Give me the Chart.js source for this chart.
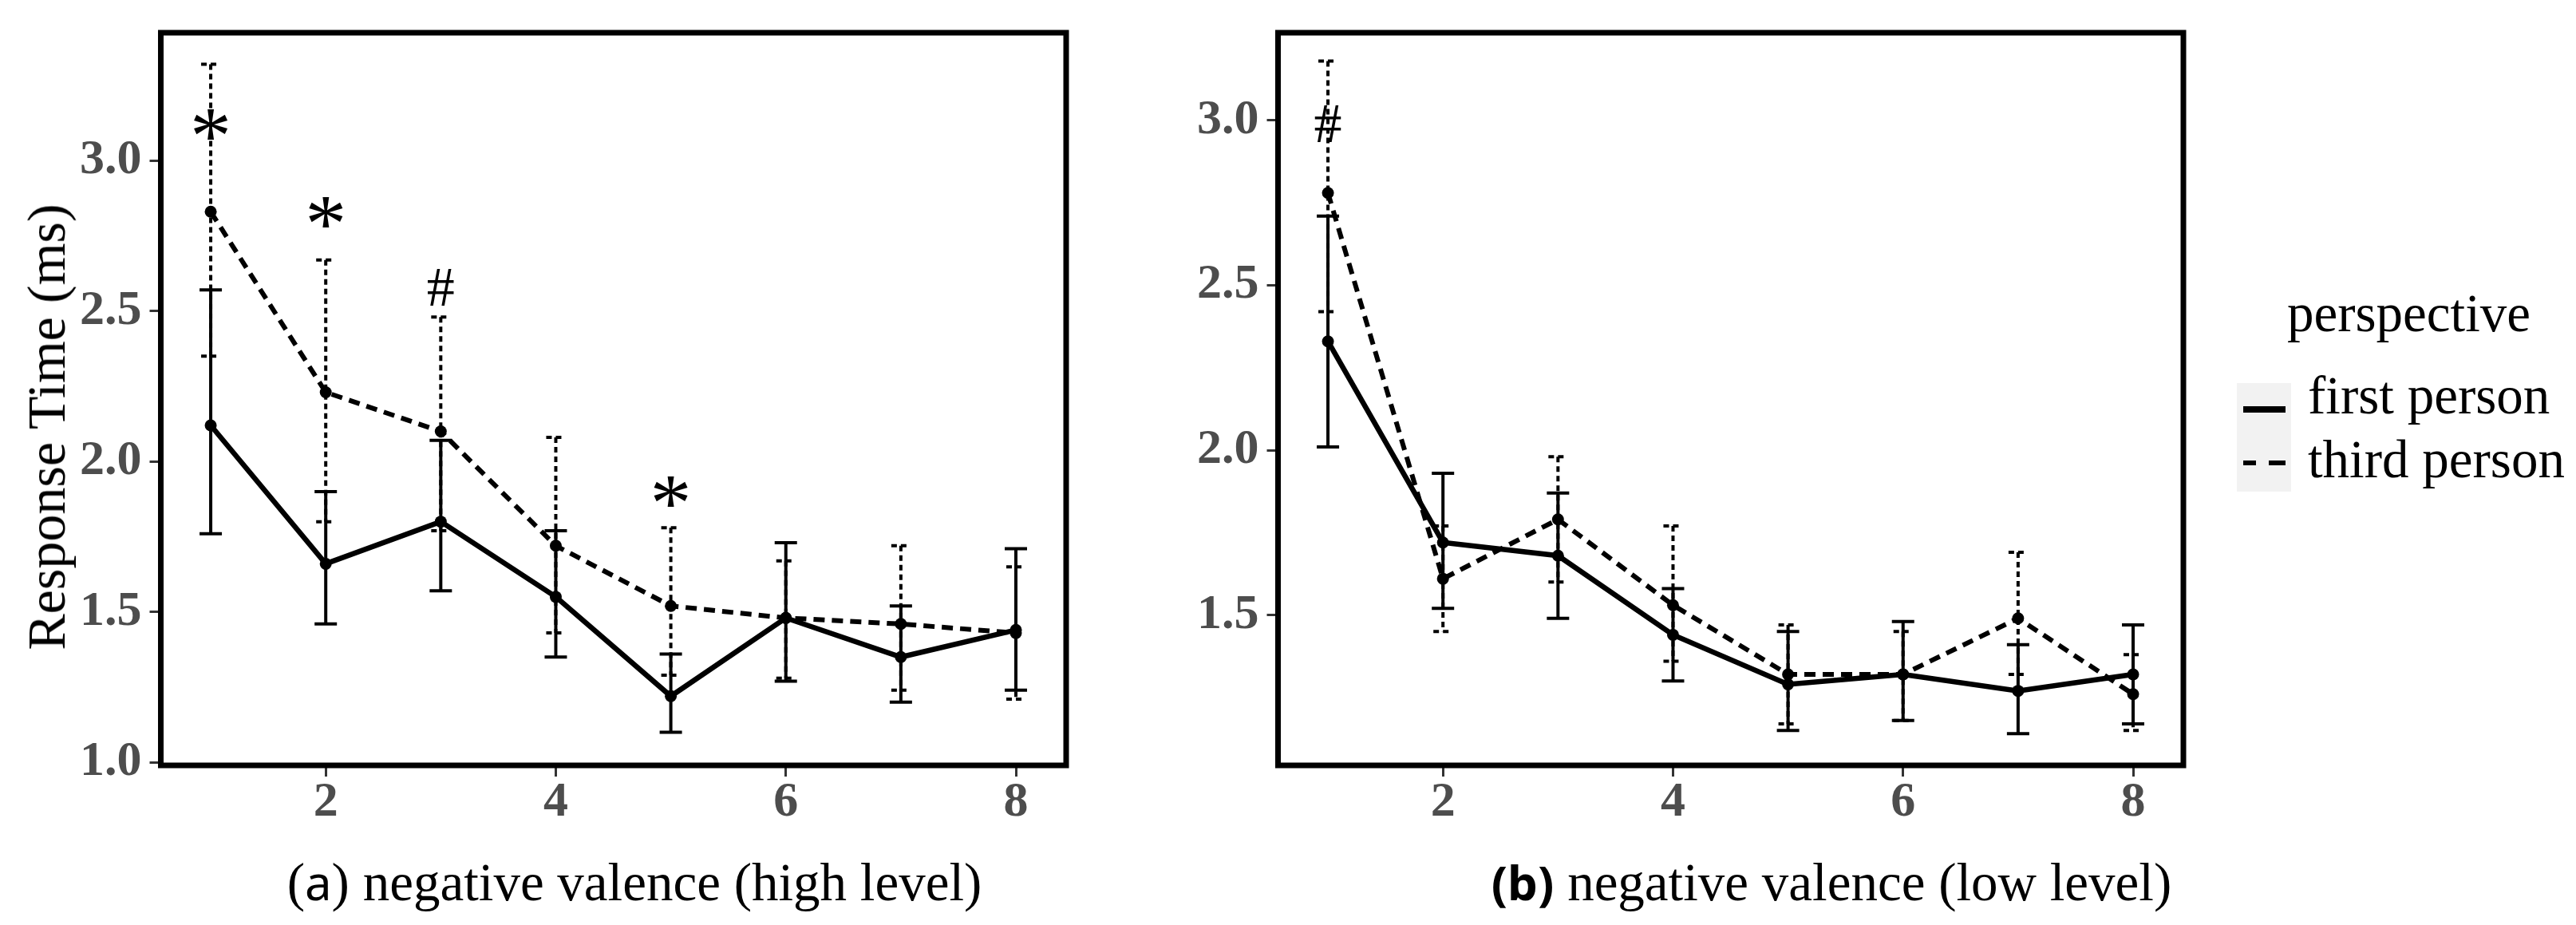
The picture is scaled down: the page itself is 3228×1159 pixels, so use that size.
<!DOCTYPE html>
<html>
<head>
<meta charset="utf-8">
<script src="https://cdn.jsdelivr.net/npm/chart.js@4.4.1/dist/chart.umd.min.js"></script>
<style>
  html, body { margin: 0; padding: 0; background: #fff; }
  #page { position: relative; width: 3228px; height: 1159px; overflow: hidden; background: #fff; }
  canvas { position: absolute; top: 0; }
  .txt { position: absolute; font-family: "Liberation Serif", "Times New Roman", serif; color: #000; white-space: nowrap; line-height: 1; }
</style>
</head>
<body>
<div id="page">
  <canvas id="chartHigh" width="1400" height="1159" style="left:0px"></canvas>
  <canvas id="chartLow" width="1400" height="1159" style="left:1400px"></canvas>

  <div class="txt" id="yTitle" style="font-size:68px; left:58px; top:535px; transform:translate(-50%,-50%) rotate(-90deg);">Response Time (ms)</div>
  <div class="txt" style="font-size:67px; left:795px; top:1072px; transform:translateX(-50%);">(<span style="font-family:'Noto Sans',sans-serif;font-size:60px;">a</span>) negative valence (high level)</div>
  <div class="txt" style="font-size:67px; left:2295px; top:1072px; transform:translateX(-50%);"><span style="font-family:'Noto Sans',sans-serif;font-weight:bold;font-size:60px;">(b)</span> negative valence (low level)</div>

  <div class="txt" style="font-size:67px; left:2866px; top:359px;">perspective</div>
  <div style="position:absolute; left:2803px; top:480px; width:68px; height:136px; background:#f2f2f2;"></div>
  <div style="position:absolute; left:2811px; top:509px; width:53px; height:8px; background:#000;"></div>
  <div style="position:absolute; left:2811px; top:577px; width:16px; height:6px; background:#000;"></div>
  <div style="position:absolute; left:2843px; top:577px; width:21px; height:6px; background:#000;"></div>
  <div class="txt" style="font-size:67px; left:2892px; top:462px;">first person</div>
  <div class="txt" style="font-size:67px; left:2892px; top:542px;">third person</div>
</div>

<script>
// x positions (number of items)
const levels = [1, 2, 3, 4, 5, 6, 7, 8];
const xTicks = [2, 4, 6, 8];

// (a) negative valence, high level
const firstHigh   = [2.12, 1.66, 1.80, 1.55, 1.22, 1.48, 1.35, 1.44];
const firstHighLo = [1.76, 1.46, 1.57, 1.35, 1.10, 1.27, 1.20, 1.24];
const firstHighHi = [2.57, 1.90, 2.07, 1.77, 1.36, 1.73, 1.52, 1.71];
const thirdHigh   = [2.83, 2.23, 2.10, 1.72, 1.52, 1.48, 1.46, 1.43];
const thirdHighLo = [2.35, 1.80, 1.77, 1.43, 1.29, 1.28, 1.24, 1.21];
const thirdHighHi = [3.32, 2.67, 2.48, 2.08, 1.78, 1.67, 1.72, 1.65];
const yTicksHigh = [1.0, 1.5, 2.0, 2.5, 3.0];
const marksHigh = [
  { x: 1, y: 3.12, t: "*" },
  { x: 2, y: 2.83, t: "*" },
  { x: 3, y: 2.58, t: "#" },
  { x: 5, y: 1.90, t: "*" },
];

// (b) negative valence, low level
const firstLow   = [2.33, 1.72, 1.68, 1.44, 1.29, 1.32, 1.27, 1.32];
const firstLowLo = [2.01, 1.52, 1.49, 1.30, 1.15, 1.18, 1.14, 1.17];
const firstLowHi = [2.71, 1.93, 1.87, 1.58, 1.45, 1.48, 1.41, 1.47];
const thirdLow   = [2.78, 1.61, 1.79, 1.53, 1.32, 1.32, 1.49, 1.26];
const thirdLowLo = [2.42, 1.45, 1.60, 1.36, 1.17, 1.18, 1.32, 1.15];
const thirdLowHi = [3.18, 1.77, 1.98, 1.77, 1.47, 1.45, 1.69, 1.38];
const yTicksLow = [1.5, 2.0, 2.5, 3.0];
const marksLow = [{ x: 1, y: 2.99, t: "#" }];

const toPoints = (ys) => levels.map((x, i) => ({ x: x, y: ys[i] }));

// error bars, drawn under the lines
const errorBars = {
  id: "errorBars",
  beforeDatasetsDraw(chart, args, opts) {
    const ctx = chart.ctx;
    const xs = chart.scales.x, ys = chart.scales.y;
    opts.bars.forEach((b) => {
      ctx.save();
      ctx.strokeStyle = "#000";
      ctx.lineWidth = 4;
      ctx.setLineDash(b.dashed ? [7, 5] : []);
      levels.forEach((x, i) => {
        const px = xs.getPixelForValue(x);
        const top = ys.getPixelForValue(b.hi[i]);
        const bot = ys.getPixelForValue(b.lo[i]);
        const w = b.dashed ? 12 : 14;
        ctx.beginPath();
        ctx.moveTo(px, top); ctx.lineTo(px, bot);
        ctx.moveTo(px - w, top); ctx.lineTo(px + w, top);
        ctx.moveTo(px - w, bot); ctx.lineTo(px + w, bot);
        ctx.stroke();
      });
      ctx.restore();
    });
  },
};

// significance marks and the panel border
const panelExtras = {
  id: "panelExtras",
  afterDatasetsDraw(chart, args, opts) {
    const ctx = chart.ctx;
    const xs = chart.scales.x, ys = chart.scales.y;
    ctx.save();
    ctx.fillStyle = "#000";
    ctx.textAlign = "center";
    ctx.textBaseline = "alphabetic";
    opts.marks.forEach((m) => {
      ctx.font = m.t === "*" ? "104px 'Liberation Serif'" : "70px 'Liberation Serif'";
      const mt = ctx.measureText(m.t);
      const px = xs.getPixelForValue(m.x);
      const py = ys.getPixelForValue(m.y) + (mt.actualBoundingBoxAscent - mt.actualBoundingBoxDescent) / 2;
      ctx.fillText(m.t, px, py);
    });
    const a = chart.chartArea;
    ctx.strokeStyle = "#000";
    ctx.lineWidth = 7;
    ctx.strokeRect(a.left, a.top, a.right - a.left, a.bottom - a.top);
    ctx.restore();
  },
};

function makePanel(id, d) {
  const tickFont = { family: "'Liberation Serif'", size: 62, weight: "bold", lineHeight: 1 };
  return new Chart(document.getElementById(id), {
    type: "line",
    data: {
      datasets: [
        {
          label: "first person",
          data: toPoints(d.first),
          borderColor: "#000",
          backgroundColor: "#000",
          borderWidth: 6.5,
          pointRadius: 7.5,
          pointBorderWidth: 0,
          tension: 0,
        },
        {
          label: "third person",
          data: toPoints(d.third),
          borderColor: "#000",
          backgroundColor: "#000",
          borderWidth: 6,
          borderDash: [14, 9],
          pointRadius: 7.5,
          pointBorderWidth: 0,
          tension: 0,
        },
      ],
    },
    options: {
      responsive: false,
      animation: false,
      devicePixelRatio: 1,
      layout: { padding: { top: 28.5, right: 64, left: 0, bottom: 0 } },
      scales: {
        x: {
          type: "linear",
          min: 0.566,
          max: 8.437,
          afterBuildTicks: (s) => { s.ticks = xTicks.map((v) => ({ value: v })); },
          afterFit: (s) => { s.height = 200; },
          grid: { drawOnChartArea: false, drawTicks: true, tickLength: 14, tickWidth: 3, tickColor: "#333" },
          border: { display: false },
          ticks: { color: "#4d4d4d", font: tickFont, padding: 2, maxRotation: 0 },
        },
        y: {
          min: d.yMin,
          max: d.yMax,
          afterBuildTicks: (s) => { s.ticks = d.yTicks.map((v) => ({ value: v })); },
          afterFit: (s) => { s.width = 201.5; },
          grid: { drawOnChartArea: false, drawTicks: true, tickLength: 14, tickWidth: 3, tickColor: "#333" },
          border: { display: false },
          ticks: { color: "#4d4d4d", font: tickFont, padding: 10, callback: (v) => Number(v).toFixed(1) },
        },
      },
      plugins: {
        legend: { display: false },
        tooltip: { enabled: false },
        errorBars: {
          bars: [
            { lo: d.firstLo, hi: d.firstHi, dashed: false },
            { lo: d.thirdLo, hi: d.thirdHi, dashed: true },
          ],
        },
        panelExtras: { marks: d.marks },
      },
    },
    plugins: [errorBars, panelExtras],
  });
}

makePanel("chartHigh", {
  first: firstHigh, firstLo: firstHighLo, firstHi: firstHighHi,
  third: thirdHigh, thirdLo: thirdHighLo, thirdHi: thirdHighHi,
  yMin: 0.99, yMax: 3.425, yTicks: yTicksHigh, marks: marksHigh,
});

makePanel("chartLow", {
  first: firstLow, firstLo: firstLowLo, firstHi: firstLowHi,
  third: thirdLow, thirdLo: thirdLowLo, thirdHi: thirdLowHi,
  yMin: 1.044, yMax: 3.266, yTicks: yTicksLow, marks: marksLow,
});
</script>
</body>
</html>
